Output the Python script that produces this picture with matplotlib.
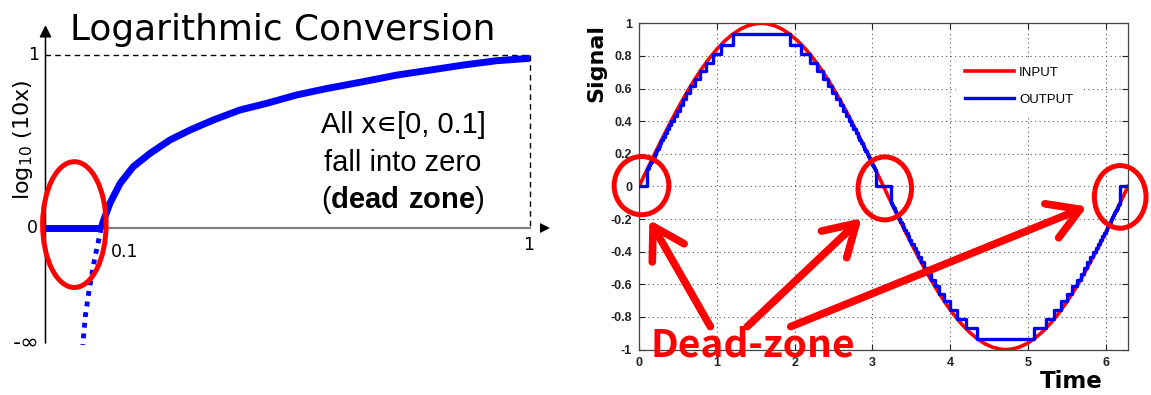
import numpy as np
import matplotlib.pyplot as plt
from matplotlib.patches import Ellipse
from matplotlib.ticker import FuncFormatter

plt.rcParams['mathtext.fontset'] = 'custom'
plt.rcParams['mathtext.rm'] = 'DejaVu Sans'
plt.rcParams['mathtext.bf'] = 'Liberation Sans:bold'

# ---------- left panel : log conversion ----------
log_x = [0.115, 0.119, 0.133, 0.154, 0.181, 0.216, 0.257, 0.298, 0.346, 0.401,
         0.457, 0.518, 0.580, 0.656, 0.725, 0.794, 0.862, 0.931, 1.0]
log_y = [0.0, 0.036, 0.143, 0.258, 0.354, 0.432, 0.509, 0.566, 0.624, 0.682,
         0.721, 0.769, 0.806, 0.846, 0.884, 0.913, 0.942, 0.967, 0.981]
dead_x = [0.0, 0.115]
dead_y = [0.0, 0.0]
tail_x = [0.115, 0.101, 0.090, 0.082, 0.077]
tail_y = [0.0, -0.185, -0.358, -0.514, -0.676]

# ---------- right panel : sine input and log-quantised output ----------
# one quarter wave of the input, the rest follows by symmetry
in_t = [0.0, 0.1, 0.2, 0.3, 0.4, 0.5, 0.6, 0.7, 0.8, 0.9, 1.0, 1.1, 1.2,
        1.3, 1.4, 1.5, 1.5708]
in_v = [0.0, 0.0998, 0.1987, 0.2955, 0.3894, 0.4794, 0.5646, 0.6442, 0.7174,
        0.7833, 0.8415, 0.8912, 0.9320, 0.9636, 0.9854, 0.9975, 1.0]
# quantiser levels and the time each level is reached on the rising edge
q_levels = [0.100, 0.107, 0.115, 0.123, 0.132, 0.142, 0.152, 0.163, 0.175, 0.187,
            0.201, 0.215, 0.231, 0.248, 0.265, 0.285, 0.305, 0.327, 0.351, 0.376,
            0.404, 0.433, 0.464, 0.498, 0.534, 0.572, 0.613, 0.658, 0.705, 0.756,
            0.811, 0.870, 0.933]
q_times = [0.100, 0.107, 0.115, 0.123, 0.132, 0.142, 0.153, 0.164, 0.176, 0.188,
           0.202, 0.217, 0.233, 0.251, 0.268, 0.289, 0.310, 0.333, 0.359, 0.386,
           0.416, 0.448, 0.482, 0.521, 0.563, 0.609, 0.660, 0.718, 0.782, 0.857,
           0.946, 1.055, 1.202]
x_ticks = [0, 1, 2, 3, 4, 5, 6]
y_ticks = [-1, -0.8, -0.6, -0.4, -0.2, 0, 0.2, 0.4, 0.6, 0.8, 1]

PI = np.pi
t_q = np.array(in_t)
v_q = np.array(in_v)
sig_t = np.concatenate([t_q, PI - t_q[::-1][1:], PI + t_q[1:], 2 * PI - t_q[::-1][1:]])
sig_v = np.concatenate([v_q, v_q[::-1][1:], -v_q[1:], -v_q[::-1][1:]])

lv = np.array(q_levels)
tm = np.array(q_times)
fall_v = np.concatenate([lv[::-1][1:], [0.0]])
out_t = np.concatenate([[0.0], tm, PI - tm[::-1], PI + tm, 2 * PI - tm[::-1], [2 * PI]])
out_v = np.concatenate([[0.0], lv, fall_v, -lv, -fall_v, [0.0]])

fig = plt.figure(figsize=(11.51, 3.95), dpi=100)

# ---- left ----
ax1 = fig.add_axes([0, 0, 560 / 1151, 1])
ax1.set_xlim(-0.0939, 1.062)
ax1.set_ylim(-0.965, 1.318)
ax1.axis('off')

ax1.plot([0, 1.0], [0, 0], color='#808080', lw=1.6, zorder=1)
ax1.annotate('', xy=(1.047, 0), xytext=(1.02, 0),
             arrowprops=dict(arrowstyle='-|>', color='black', lw=0, mutation_scale=18))
ax1.annotate('', xy=(0, 1.173), xytext=(0, -0.665),
             arrowprops=dict(arrowstyle='-|>', color='black', lw=1.1, mutation_scale=18,
                             shrinkA=0, shrinkB=0))
ax1.plot([0, 1], [1, 1], color='black', lw=1, ls=(0, (4, 3)))
ax1.plot([1, 1], [1, 0], color='black', lw=1, ls=(0, (4, 3)))

ax1.plot(log_x, log_y, color='#0000ff', lw=5, solid_capstyle='butt',
         solid_joinstyle='round', zorder=3)
ax1.plot(dead_x, dead_y, color='#0000ff', lw=5, solid_capstyle='butt', zorder=3)
ax1.plot(tail_x, tail_y, color='#0000ff', lw=3.5, ls=(0, (1, 1.2)), zorder=3)
ax1.add_patch(Ellipse((0.0596, 0.02), 0.131, 0.727, fill=False, ec='red', lw=3.6, zorder=4))

ax1.text(0.49, 1.087, 'Logarithmic Conversion', fontsize=25.8, ha='center', va='baseline')
ax1.text(-0.046, 0.509, 'log$_{10}$ (10x)', fontsize=16, rotation=90, ha='center', va='center')
ax1.text(-0.025, 1.0, '1', fontsize=12.5, ha='center', va='center')
ax1.text(-0.027, 0.0, '0', fontsize=12.5, ha='center', va='center')
ax1.text(-0.04, -0.659, '-\u221e', fontsize=16, ha='center', va='center')
ax1.text(0.163, -0.139, '0.1', fontsize=12.5, ha='center', va='center')
ax1.text(0.998, -0.098, '1', fontsize=12.5, ha='center', va='center')

fam = ['Liberation Sans', 'DejaVu Sans']
ax1.text(0.738, 0.549, 'All x\u220a[0, 0.1]', fontsize=21, family=fam, ha='center', va='baseline')
ax1.text(0.738, 0.329, 'fall into zero', fontsize=21, family=fam, ha='center', va='baseline')
ax1.text(0.738, 0.116, r'($\mathbf{dead\ zone}$)', fontsize=21, family=fam,
         ha='center', va='baseline')

# ---- right ----
ax2 = fig.add_axes([639 / 1151, (395 - 349.6) / 395, 489 / 1151, 326.3 / 395])
ax2.plot(sig_t, sig_v, color='#ff0000', lw=2.6, label='INPUT', zorder=3)
ax2.plot(out_t, out_v, color='#0000ff', lw=2.4, drawstyle='steps-post', label='OUTPUT', zorder=4)
ax2.set_xlim(0, 2 * PI)
ax2.set_ylim(-1, 1)
ax2.set_xticks(x_ticks)
ax2.set_yticks(y_ticks)
ax2.yaxis.set_major_formatter(FuncFormatter(lambda v, p: f'{v:g}'))
ax2.xaxis.set_major_formatter(FuncFormatter(lambda v, p: f'{v:g}'))
ax2.tick_params(direction='in', top=True, right=True, length=4, width=0.8, pad=5,
                labelsize=9, colors='#222222')
plt.setp(ax2.get_xticklabels() + ax2.get_yticklabels(), fontweight='bold', family='Liberation Sans')
ax2.grid(True, color='#555555', lw=0.8, ls=(0, (1, 3)))
for sp in ax2.spines.values():
    sp.set_color('#444444')
    sp.set_linewidth(0.9)

leg = ax2.legend(loc='upper left', bbox_to_anchor=(0.6475, 0.895), frameon=True,
                 fancybox=False, edgecolor='white', facecolor='white', framealpha=1,
                 handlelength=3.7, handletextpad=0.4, labelspacing=1.1, borderpad=0.7,
                 borderaxespad=0, prop={'family': 'Liberation Sans', 'size': 9.5})
leg.set_zorder(5)

for (cx, cy, w, h) in [(0.032, 0.005, 0.703, 0.357), (3.158, -0.012, 0.687, 0.386),
                       (6.183, -0.064, 0.664, 0.384)]:
    ax2.add_patch(Ellipse((cx, cy), w, h, fill=False, ec='red', lw=3.6, zorder=6, clip_on=False))

arrow_kw = dict(arrowstyle='->, head_length=1.0, head_width=0.6', color='red', lw=5.5,
                mutation_scale=22, shrinkA=0, shrinkB=0)
for head, tail in [((0.133, -0.205), (0.917, -0.859)),
                   ((2.861, -0.195), (1.39, -0.859)),
                   ((5.756, -0.123), (1.95, -0.859))]:
    ax2.annotate('', xy=head, xytext=tail, arrowprops=arrow_kw, zorder=7, annotation_clip=False)

ax2.text(1.461, -1.042, 'Dead-zone', color='red', fontsize=28, fontweight='bold',
         family=['Noto Sans CJK KR', 'DejaVu Sans'], ha='center', va='baseline', zorder=8)

fig.text(596 / 1151, (395 - 62.5) / 395, 'Signal', fontsize=16, fontweight='bold',
         rotation=90, ha='center', va='center')
fig.text(1071 / 1151, (395 - 388) / 395, 'Time', fontsize=16.5, fontweight='bold',
         ha='center', va='baseline')

fig.savefig('out.png', dpi=100)
